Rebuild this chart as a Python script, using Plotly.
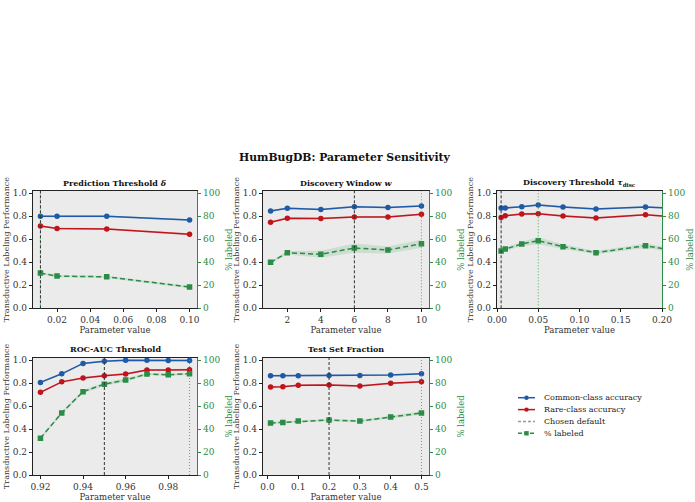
import plotly.graph_objects as go

# ---------------- data ----------------
titles = ["Prediction Threshold <i>δ</i>", "Discovery Window <i>w</i>",
          "Discovery Threshold <i>τ</i><sub>disc</sub>", "ROC-AUC Threshold", "Test Set Fraction"]

x1 = [0.01, 0.02, 0.05, 0.10]
common1 = [0.800, 0.800, 0.800, 0.767]
rare1 = [0.715, 0.695, 0.690, 0.644]
lab1 = [30.6, 28.0, 27.4, 18.5]
lab_sd1 = [1.0, 1.0, 1.0, 1.0]

x2 = [1, 2, 4, 6, 8, 10]
common2 = [0.846, 0.870, 0.860, 0.883, 0.876, 0.890]
rare2 = [0.748, 0.783, 0.780, 0.795, 0.795, 0.817]
lab2 = [40.0, 48.3, 47.0, 52.4, 50.7, 56.2]
lab_sd2 = [1.0, 1.5, 3.0, 4.0, 3.0, 3.5]

x3 = [0.005, 0.01, 0.03, 0.05, 0.08, 0.12, 0.18, 0.25]
common3 = [0.872, 0.872, 0.884, 0.898, 0.881, 0.864, 0.881, 0.860]
rare3 = [0.789, 0.805, 0.820, 0.823, 0.803, 0.785, 0.814, 0.777]
lab3 = [49.8, 51.5, 55.9, 58.8, 53.6, 48.4, 54.4, 46.0]
lab_sd3 = [1.5, 1.5, 2.0, 3.0, 2.0, 1.5, 2.0, 2.0]

x4 = [0.92, 0.93, 0.94, 0.95, 0.96, 0.97, 0.98, 0.99]
common4 = [0.805, 0.880, 0.970, 0.990, 0.997, 0.997, 0.996, 0.996]
rare4 = [0.719, 0.810, 0.843, 0.864, 0.878, 0.913, 0.913, 0.915]
lab4 = [32.0, 54.0, 72.5, 79.0, 82.6, 87.8, 87.2, 88.0]
lab_sd4 = [1.0, 1.5, 1.5, 1.5, 1.5, 1.0, 1.0, 1.0]

x5 = [0.01, 0.05, 0.1, 0.2, 0.3, 0.4, 0.5]
common5 = [0.864, 0.864, 0.864, 0.865, 0.865, 0.870, 0.880]
rare5 = [0.765, 0.768, 0.780, 0.783, 0.774, 0.797, 0.810]
lab5 = [45.2, 45.7, 46.9, 47.8, 46.9, 50.4, 53.9]
lab_sd5 = [1.0, 1.0, 1.0, 1.0, 1.0, 1.5, 1.5]

acc_sd = 0.008
chosen_default = [0.01, 6, 0.005, 0.95, 0.2]
best_labeled = [0.01, 10, 0.05, 0.99, 0.5]

x_ranges = [[0.0055, 0.1045], [0.55, 10.45], [0.0, 0.2], [0.9165, 0.9935], [-0.0145, 0.5245]]
x_ticks = [[0.02, 0.04, 0.06, 0.08, 0.10], [2, 4, 6, 8, 10],
           [0.0, 0.05, 0.10, 0.15, 0.20], [0.92, 0.94, 0.96, 0.98], [0.0, 0.1, 0.2, 0.3, 0.4, 0.5]]
x_fmt = [".2f", "d", ".2f", ".2f", ".1f"]
left_ticks = [0.0, 0.2, 0.4, 0.6, 0.8, 1.0]
right_ticks = [0, 20, 40, 60, 80, 100]
legend_labels = ["Common-class accuracy", "Rare-class accuracy", "Chosen default", "% labeled"]

panels = [(x1, common1, rare1, lab1, lab_sd1), (x2, common2, rare2, lab2, lab_sd2),
          (x3, common3, rare3, lab3, lab_sd3), (x4, common4, rare4, lab4, lab_sd4),
          (x5, common5, rare5, lab5, lab_sd5)]

# ---------------- style ----------------
W, H = 695, 502
FONT = "DejaVu Serif"
BLUE = "#1f5aa6"
RED = "#c0141c"
GREEN = "#2a8c46"
VGREEN = "rgba(60,170,80,0.9)"
BG = "#ebebeb"
TICK = 9

def px_x(p):
    return p / W

def px_y(p):
    return 1 - p / H

col_px = [(33, 197), (263, 429), (497, 662)]
row_px = [(191, 308.3), (357.7, 475)]

def band(xs, ys, sd):
    if isinstance(sd, (int, float)):
        sd = [sd] * len(ys)
    up = [y + s for y, s in zip(ys, sd)]
    lo = [y - s for y, s in zip(ys, sd)]
    return list(xs) + list(xs)[::-1], up + lo[::-1]

def rgba(hexc, a):
    h = hexc.lstrip("#")
    return "rgba(%d,%d,%d,%s)" % (int(h[0:2], 16), int(h[2:4], 16), int(h[4:6], 16), a)

fig = go.Figure()
layout = dict(
    width=W, height=H, margin=dict(l=0, r=0, t=0, b=0, autoexpand=False),
    paper_bgcolor="white", plot_bgcolor=BG, showlegend=False,
    font=dict(family=FONT, size=8, color="#222"),
)
annotations = []
shapes = []

for i, (xs, com, rar, lab, lsd) in enumerate(panels):
    r, c = divmod(i, 3)
    xn = "x" if i == 0 else "x%d" % (i + 1)
    yn = "y" if i == 0 else "y%d" % (i + 1)
    yrn = "y%d" % (i + 6)
    xk = "xaxis" if i == 0 else "xaxis%d" % (i + 1)
    yk = "yaxis" if i == 0 else "yaxis%d" % (i + 1)
    yrk = "yaxis%d" % (i + 6)
    x0, x1p = col_px[c]
    t0, b0 = row_px[r]
    xdom = [px_x(x0), px_x(x1p)]
    ydom = [px_y(b0), px_y(t0)]

    # bands
    for ys, col, sd, ya in [(com, BLUE, acc_sd, yn), (rar, RED, acc_sd, yn)]:
        bx, by = band(xs, ys, sd)
        fig.add_trace(go.Scatter(x=bx, y=by, xaxis=xn, yaxis=ya, fill="toself",
                                 fillcolor=rgba(col, 0.18), line=dict(width=0),
                                 mode="lines", hoverinfo="skip"))
    fig.add_trace(go.Scatter(x=xs, y=com, xaxis=xn, yaxis=yn, mode="lines+markers",
                             line=dict(color=BLUE, width=1.5),
                             marker=dict(symbol="circle", size=5.5, color=BLUE),
                             name=legend_labels[0]))
    fig.add_trace(go.Scatter(x=xs, y=rar, xaxis=xn, yaxis=yn, mode="lines+markers",
                             line=dict(color=RED, width=1.5),
                             marker=dict(symbol="circle", size=5.5, color=RED),
                             name=legend_labels[1]))
    bx, by = band(xs, lab, lsd)
    fig.add_trace(go.Scatter(x=bx, y=by, xaxis=xn, yaxis=yrn, fill="toself",
                             fillcolor=rgba(GREEN, 0.15), line=dict(width=0),
                             mode="lines", hoverinfo="skip"))
    fig.add_trace(go.Scatter(x=xs, y=lab, xaxis=xn, yaxis=yrn, mode="lines+markers",
                             line=dict(color=GREEN, width=1.5, dash="5px,3px"),
                             marker=dict(symbol="square", size=5.5, color=GREEN),
                             name=legend_labels[3]))

    layout[xk] = dict(domain=xdom, anchor=yn, range=x_ranges[i], tickvals=x_ticks[i],
                      tickformat=x_fmt[i], showgrid=False, zeroline=False, automargin=False,
                      showline=True, linecolor="#222", linewidth=1.2, mirror=True,
                      ticks="outside", ticklen=3, tickwidth=0.8, tickcolor="#222",
                      tickfont=dict(size=TICK, color="#333"),
                      title=dict(text="Parameter value", font=dict(size=8.5, color="#333"), standoff=0))
    layout[yk] = dict(domain=ydom, anchor=xn, range=[0, 1.02], tickvals=left_ticks,
                      tickformat=".1f", showgrid=False, zeroline=False, automargin=False,
                      showline=True, linecolor="#222", linewidth=1.4,
                      ticks="outside", ticklen=3, tickwidth=0.8, tickcolor="#222",
                      tickfont=dict(size=TICK, color="#333"),
                      title=dict(text="Transductive Labeling Performance",
                                 font=dict(size=8, color="#333"), standoff=1))
    layout[yrk] = dict(domain=ydom, anchor=xn, overlaying=yn, side="right", range=[0, 102],
                       tickvals=right_ticks, showgrid=False, zeroline=False, automargin=False,
                       showline=True, linecolor=GREEN, linewidth=1.4,
                       ticks="outside", ticklen=3, tickwidth=0.8, tickcolor=GREEN,
                       tickfont=dict(size=TICK, color=GREEN),
                       title=dict(text="% labeled", font=dict(size=8.5, color=GREEN), standoff=6))

    # vertical markers
    shapes.append(dict(type="line", xref=xn, yref=yn + " domain", x0=best_labeled[i],
                       x1=best_labeled[i], y0=0, y1=1,
                       line=dict(color=VGREEN, width=1, dash="1px,2px")))
    shapes.append(dict(type="line", xref=xn, yref=yn + " domain", x0=chosen_default[i],
                       x1=chosen_default[i], y0=0, y1=1,
                       line=dict(color="#333", width=1, dash="3px,2px")))

    annotations.append(dict(text="<b>%s</b>" % titles[i], xref="paper", yref="paper",
                            x=(xdom[0] + xdom[1]) / 2, y=ydom[1] + 1.5 / H,
                            xanchor="center", yanchor="bottom", showarrow=False,
                            font=dict(size=8, color="#111")))

annotations.append(dict(text="<b>HumBugDB: Parameter Sensitivity</b>", xref="paper", yref="paper",
                        x=344 / W, y=px_y(158), xanchor="center", yanchor="middle",
                        showarrow=False, font=dict(size=10.8, color="#111")))

# manual legend
leg_x0, leg_x1, leg_tx = 518, 535, 541.5
leg_y = [397.7, 409.6, 421.5, 433.3]
leg_style = [(BLUE, "solid", "circle"), (RED, "solid", "circle"),
             ("#999", "3px,2px", None), (GREEN, "4px,2px", "square")]
for k, (lbl, (col, dash, mk)) in enumerate(zip(legend_labels, leg_style)):
    yy = px_y(leg_y[k])
    shapes.append(dict(type="line", xref="paper", yref="paper", x0=px_x(leg_x0), x1=px_x(leg_x1),
                       y0=yy, y1=yy, line=dict(color=col, width=1.5, dash=dash)))
    if mk:
        cx = (leg_x0 + leg_x1) / 2
        s = 2.2
        shapes.append(dict(type="circle" if mk == "circle" else "rect", xref="paper", yref="paper",
                           x0=px_x(cx - s), x1=px_x(cx + s), y0=px_y(leg_y[k] + s), y1=px_y(leg_y[k] - s),
                           fillcolor=col, line=dict(width=0)))
    annotations.append(dict(text=lbl, xref="paper", yref="paper", x=px_x(leg_tx), y=yy,
                            xanchor="left", yanchor="middle", showarrow=False,
                            font=dict(size=8, color="#222")))

layout["annotations"] = annotations
layout["shapes"] = shapes
fig.update_layout(**layout)
fig.write_html("out.html")
